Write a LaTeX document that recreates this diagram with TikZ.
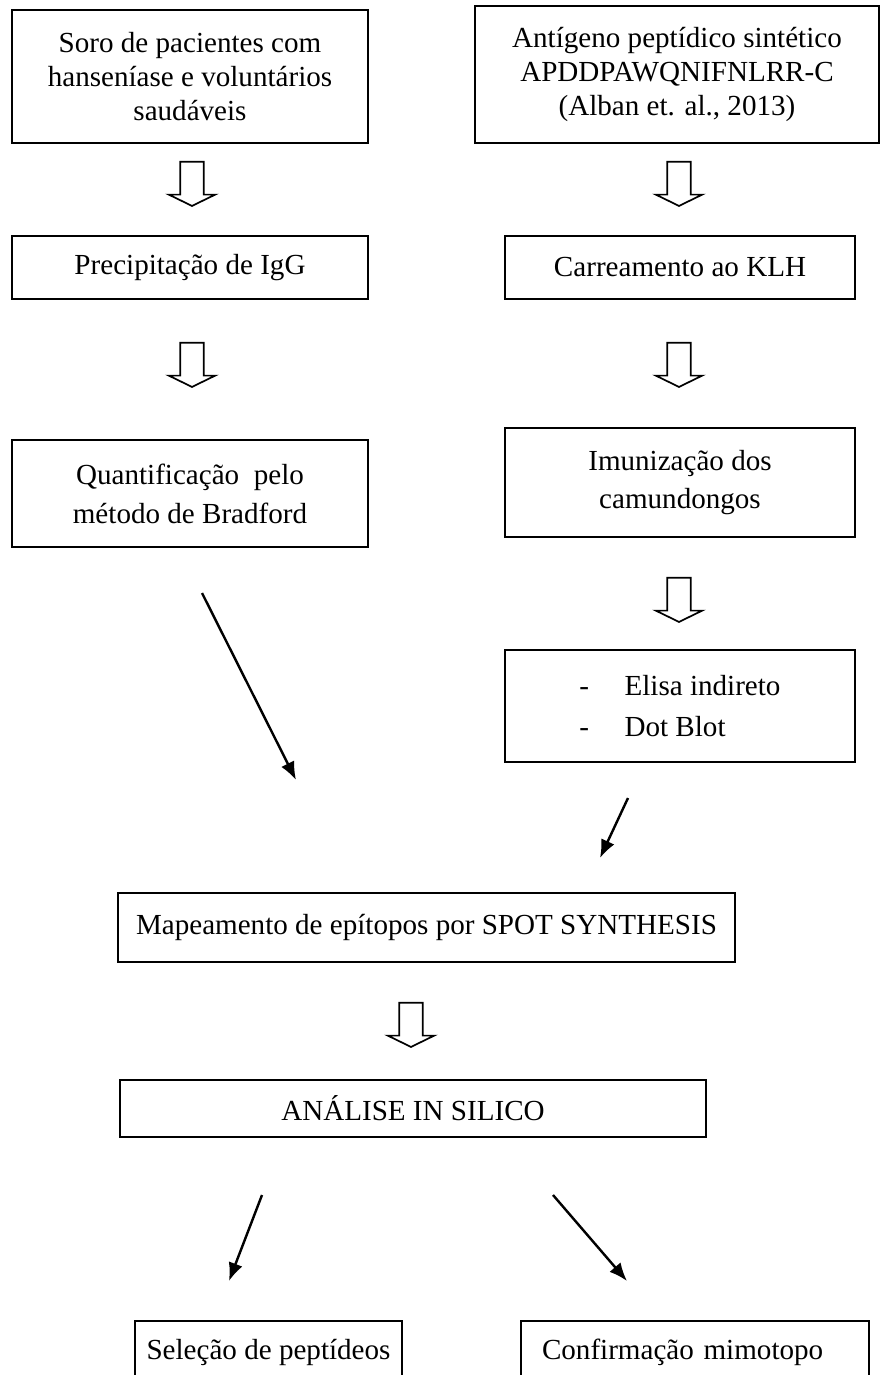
\documentclass[tikz,border=0pt]{standalone}
\usepackage{fontspec}
\setmainfont{Liberation Serif}
\usepackage{tikz}
\usetikzlibrary{shapes.arrows,arrows.meta,positioning}

\begin{document}
\begin{tikzpicture}[x=0.4125pt,y=-0.4125pt,
    box/.style={draw,line width=0.8pt,align=center,inner sep=0pt,font=\fontsize{12}{16}\selectfont},
    hollow/.style={draw,line width=0.7pt,single arrow,rotate=-90,minimum height=18.2pt,inner xsep=0pt,inner ysep=4.5pt,single arrow head extend=4.7pt,single arrow tip angle=128},
    slant/.style={-{Latex[length=7.5pt,width=6pt]},line width=1pt}]
  \useasboundingbox (0,0) rectangle (881,1375);

  \node[box,minimum width=146.9pt,minimum height=54.9pt,font=\fontsize{12}{14}\selectfont] (soro) at (190,76.5) {Soro de pacientes com\\hanseníase e voluntários\\saudáveis};
  \node[box,minimum width=166.7pt,minimum height=56.5pt,font=\fontsize{12}{14}\selectfont] (antigeno) at (677,74.5) {Antígeno peptídico sintético\\APDDPAWQNIFNLRR-C\\(Alban et. al., 2013)};

  \node[box,minimum width=146.9pt,minimum height=26pt] (precip) at (190,267.5) {Precipitação de IgG};
  \node[box,minimum width=144.4pt,minimum height=26pt] (carre) at (680,267.5) {Carreamento ao KLH};

  \node[box,minimum width=146.9pt,minimum height=44.1pt] (quant) at (190,493.5) {Quantificação\ \ pelo\\método de Bradford};
  \node[box,minimum width=144.4pt,minimum height=45pt] (imun) at (680,482.5) {Imunização dos\\camundongos};

  \node[box,minimum width=144.4pt,minimum height=46.2pt,align=left,font=\fontsize{12}{17}\selectfont] (elisa) at (680,706) {\makebox[18.6pt][l]{-}Elisa indireto\\\makebox[18.6pt][l]{-}Dot Blot};

  \node[box,minimum width=254.5pt,minimum height=28.5pt] (mapa) at (426.5,927.5) {Mapeamento de epítopos por SPOT SYNTHESIS};
  \node[box,minimum width=241.7pt,minimum height=23.5pt] (analise) at (413,1108.5) {ANÁLISE IN SILICO};

  \node[box,minimum width=110pt,minimum height=25.6pt] (selecao) at (268.5,1352) {Seleção de peptídeos};
  \node[box,minimum height=25.6pt,text width=126.2pt,inner xsep=8.7pt,align=left] (confirm) at (695,1352) {Confirmação mimotopo};

  \node[hollow] (h1) at (192,181) {};
  \node[hollow] (h2) at (679,181) {};
  \node[hollow] (h3) at (192,362) {};
  \node[hollow] (h4) at (679,362) {};
  \node[hollow] (h5) at (679,597) {};
  \node[hollow] (h6) at (411,1022) {};

  \coordinate (s1) at (202,593);
  \coordinate (e1) at (296,780);
  \coordinate (s2) at (628,798);
  \coordinate (e2) at (600,858);
  \coordinate (s3) at (262,1195);
  \coordinate (e3) at (229,1281);
  \coordinate (s4) at (553,1195);
  \coordinate (e4) at (627,1281);

  \draw[slant] (s1) -- (e1);
  \draw[slant] (s2) -- (e2);
  \draw[slant] (s3) -- (e3);
  \draw[slant] (s4) -- (e4);
\end{tikzpicture}
\end{document}
